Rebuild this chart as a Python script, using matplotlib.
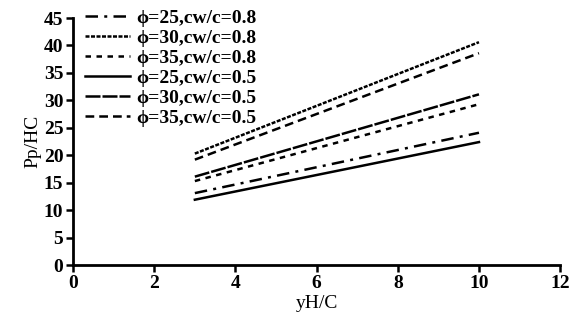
import matplotlib
matplotlib.use("Agg")
import matplotlib.pyplot as plt

x = [3, 10]
labels = ["ϕ=25,cw/c=0.8", "ϕ=30,cw/c=0.8", "ϕ=35,cw/c=0.8",
          "ϕ=25,cw/c=0.5", "ϕ=30,cw/c=0.5", "ϕ=35,cw/c=0.5"]
y_25_08 = [13.1, 24.1]
y_30_08 = [20.3, 40.6]
y_35_08 = [15.3, 29.3]
y_25_05 = [11.9, 22.4]
y_30_05 = [16.1, 31.1]
y_35_05 = [19.2, 38.6]
series = [y_25_08, y_30_08, y_35_08, y_25_05, y_30_05, y_35_05]
styles = [(0, (5, 2.5, 1.2, 2.5)), (0, (1.6, 0.6)), (0, (2.2, 2.2)),
          '-', (0, (6, 0.8)), (0, (3.5, 2))]

plt.rcParams['font.family'] = ['Liberation Serif', 'DejaVu Serif']
fig = plt.figure(figsize=(5.71, 3.28), dpi=100)
ax = fig.add_axes([0.128, 0.192, 0.853, 0.753])
for ys, lab, ls in zip(series, labels, styles):
    ax.plot(x, ys, color='black', lw=1.8, linestyle=ls, label=lab)

ax.set_xlim(0, 12)
ax.set_ylim(0, 45)
ax.set_xticks(range(0, 13, 2))
ax.set_yticks(range(0, 46, 5))
for s in ['top', 'right']:
    ax.spines[s].set_visible(False)
for s in ['left', 'bottom']:
    ax.spines[s].set_linewidth(2)
ax.tick_params(direction='out', length=5, width=1.8, labelsize=14, pad=2)
for t in ax.get_xticklabels() + ax.get_yticklabels():
    t.set_fontweight('bold')
ax.set_xlabel('yH/C', fontsize=14, labelpad=2)
ax.set_ylabel('Pp/HC', fontsize=14, labelpad=2)

leg = ax.legend(loc='upper left', bbox_to_anchor=(0.025, 1.035), frameon=False,
                handlelength=2.3, handletextpad=0.3, labelspacing=0.12,
                borderpad=0, borderaxespad=0,
                prop={'size': 14, 'weight': 'bold'})
fig.savefig('out.png', dpi=100)
